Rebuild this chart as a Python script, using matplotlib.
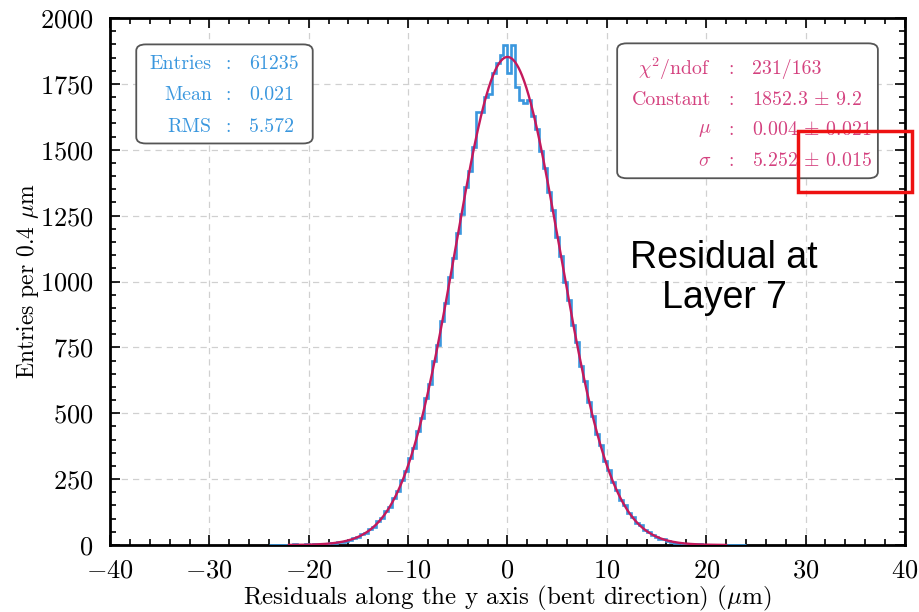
import numpy as np
import matplotlib
matplotlib.use("Agg")
import matplotlib.pyplot as plt
from matplotlib.patches import FancyBboxPatch, Rectangle

plt.rcParams['font.family'] = ['cmr10', 'DejaVu Serif']
plt.rcParams['mathtext.fontset'] = 'cm'
plt.rcParams['axes.formatter.use_mathtext'] = True

# histogram: bins of 0.4 um from -24 to 24
bin_lo, bin_hi, bin_w = -24.0, 24.0, 0.4
counts_neg = [0, 0, 1, 0, 1, 0, 2, 1, 1, 2,
              1, 3, 2, 4, 5, 6, 8, 11, 12, 17,
              19, 27, 30, 41, 46, 62, 69, 90, 102, 128,
              146, 180, 204, 247, 279, 331, 370, 433, 481, 556,
              612, 698, 759, 852, 918, 1018, 1089, 1185, 1255, 1358,
              1420, 1510, 1642, 1645, 1700, 1712, 1792, 1830, 1858, 1898]
counts_pos = [1790, 1898, 1738, 1690, 1676, 1688, 1630, 1580, 1495, 1432,
              1338, 1270, 1170, 1098, 1000, 930, 835, 770, 680, 622,
              541, 490, 422, 378, 320, 286, 238, 210, 172, 151,
              122, 107, 84, 74, 56, 50, 37, 32, 24, 21,
              15, 13, 9, 8, 5, 5, 3, 3, 2, 1,
              1, 1, 0, 1, 0, 0, 1, 0, 0, 0]
counts = counts_neg + counts_pos

# gaussian fit results
fit_const, fit_mu, fit_sigma = 1852.3, 0.004, 5.252

stats_labels = ['Entries', 'Mean', 'RMS']
stats_values = ['61235', '0.021', '5.572']
fit_labels = [r'$\chi^2$/ndof', 'Constant', r'$\mu$', r'$\sigma$']
fit_values = ['231/163', r'1852.3 $\pm$ 9.2', r'0.004 $\pm$ 0.021', r'5.252 $\pm$ 0.015']

blue = '#3a97de'
crimson = '#c4195c'
pink = '#d4417f'

fig = plt.figure(figsize=(9.2, 6.12), dpi=100)
ax = fig.add_axes([0.1196, 0.1095, 0.864, 0.861])

edges = np.linspace(bin_lo, bin_hi, len(counts) + 1)
ax.stairs(counts, edges, color=blue, lw=1.9, zorder=3)

xf = np.linspace(-22, 22, 800)
yf = fit_const * np.exp(-0.5 * ((xf - fit_mu) / fit_sigma) ** 2)
ax.plot(xf, yf, color=crimson, lw=1.7, zorder=4)

ax.set_xlim(-40, 40)
ax.set_ylim(0, 2000)
ax.set_xticks(np.arange(-40, 41, 10))
ax.set_xticks(np.arange(-40, 41, 2), minor=True)
ax.set_yticks(np.arange(0, 2001, 250))
ax.set_yticks(np.arange(0, 2001, 50), minor=True)
ax.tick_params(which='both', direction='in', top=True, right=True, labelsize=19, width=1.2)
ax.tick_params(which='major', length=7)
ax.tick_params(which='minor', length=4)
ax.tick_params(axis='x', pad=10)
ax.tick_params(axis='y', pad=12)
for s in ax.spines.values():
    s.set_linewidth(2)
ax.grid(True, which='major', ls=(0, (5, 4)), color='#d0d0d0', lw=0.9, zorder=0)
ax.set_axisbelow(True)

ax.set_xlabel(r'Residuals along the y axis (bent direction) ($\mu$m)', fontsize=18, labelpad=1)
ax.set_ylabel(r'Entries per 0.4 $\mu$m', fontsize=17, labelpad=-1)

# stats box
ax.add_patch(FancyBboxPatch((0.033, 0.762), 0.222, 0.188, transform=ax.transAxes,
                            boxstyle='round,pad=0.0,rounding_size=0.012',
                            fc='white', ec='#555555', lw=1.3, zorder=5))
for i, (lab, val) in enumerate(zip(stats_labels, stats_values)):
    y = 0.912 - i * 0.059
    ax.text(0.128, y, lab, transform=ax.transAxes, ha='right', va='center', color=blue, fontsize=14.3, zorder=6)
    ax.text(0.148, y, ':', transform=ax.transAxes, ha='center', va='center', color=blue, fontsize=14.3, zorder=6)
    ax.text(0.175, y, val, transform=ax.transAxes, ha='left', va='center', color=blue, fontsize=14.3, zorder=6)

# fit box
ax.add_patch(FancyBboxPatch((0.638, 0.696), 0.328, 0.256, transform=ax.transAxes,
                            boxstyle='round,pad=0.0,rounding_size=0.012',
                            fc='white', ec='#555555', lw=1.3, zorder=5))
for i, (lab, val) in enumerate(zip(fit_labels, fit_values)):
    y = 0.903 - i * 0.058
    ax.text(0.756, y, lab, transform=ax.transAxes, ha='right', va='center', color=pink, fontsize=14.3, zorder=6)
    ax.text(0.781, y, ':', transform=ax.transAxes, ha='center', va='center', color=pink, fontsize=14.3, zorder=6)
    ax.text(0.808, y, val, transform=ax.transAxes, ha='left', va='center', color=pink, fontsize=14.3, zorder=6)

# annotation overlay
fig.text(0.787, 0.546, 'Residual at\nLayer 7', ha='center', va='center', fontsize=27,
         family='Liberation Sans', linespacing=1.12)
fig.patches.append(Rectangle((798 / 920, 1 - 192 / 612), 114 / 920, 61 / 612,
                             transform=fig.transFigure, fill=False, ec='#ee1111', lw=2.5))

fig.savefig('out.png', dpi=100)
